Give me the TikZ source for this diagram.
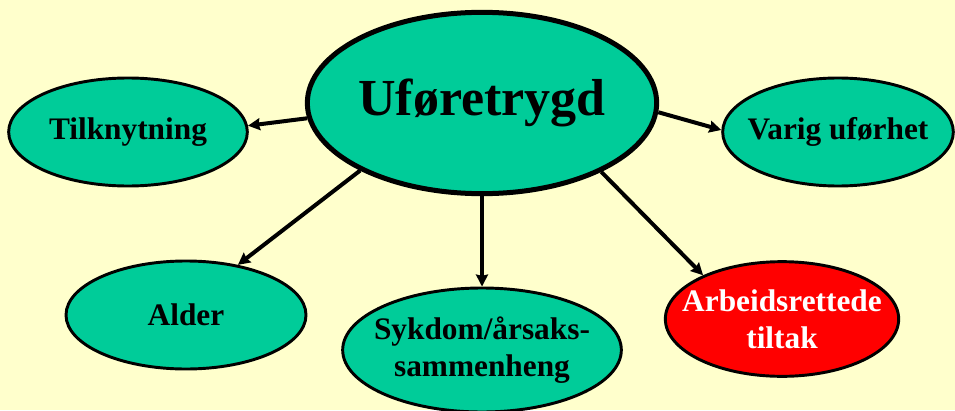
\documentclass[tikz,border=0pt]{standalone}
\usepackage{fontspec}
\setmainfont{Liberation Serif}
\usetikzlibrary{shapes.geometric,arrows.meta}
\definecolor{bakgrunn}{HTML}{FFFFCC}
\definecolor{groenn}{HTML}{00CC99}
\tikzset{
	boble/.style={ellipse,draw,fill=groenn,line width=2.2pt,inner xsep=-15pt,inner ysep=0pt,align=center,
		font=\fontsize{23.5}{27.5}\selectfont\bfseries},
	pil/.style={line width=3pt,-{Stealth[length=9pt,width=9pt,inset=1pt]}}
}
\begin{document}
\begin{tikzpicture}[x=0.75pt,y=-0.75pt]
			\fill[bakgrunn](0,0)rectangle(955,410);
			\useasboundingbox(0,0)rectangle(955,410);
			\node[boble,line width=3.75pt,minimum width=262pt,minimum height=136pt,
				font=\fontsize{39}{44}\selectfont\bfseries](hub)at(482,103){Uføretrygd};
			\node[boble,minimum width=179pt,minimum height=81pt](tilk)at(128,132){Tilknytning};
			\node[boble,minimum width=173pt,minimum height=81pt](varig)at(838,132){Varig uførhet};
			\node[boble,minimum width=180pt,minimum height=81pt](alder)at(186,315){Alder};
			\node[boble,minimum width=209pt,minimum height=93pt](sykdom)at(482,350){Sykdom/årsaks-\\sammenheng};
			\node[boble,fill=red,text=white,minimum width=175pt,minimum height=86pt](arbeid)at(782,319){Arbeidsrettede\\tiltak};
			\draw[pil](hub.185)--(tilk.3);
			\draw[pil](hub.-3)--(varig.179);
			\draw[pil](hub.209)--(alder.44);
			\draw[pil](hub.south)--(sykdom.north);
			\draw[pil](hub.-30)--(arbeid.151);
		\end{tikzpicture}
\end{document}
